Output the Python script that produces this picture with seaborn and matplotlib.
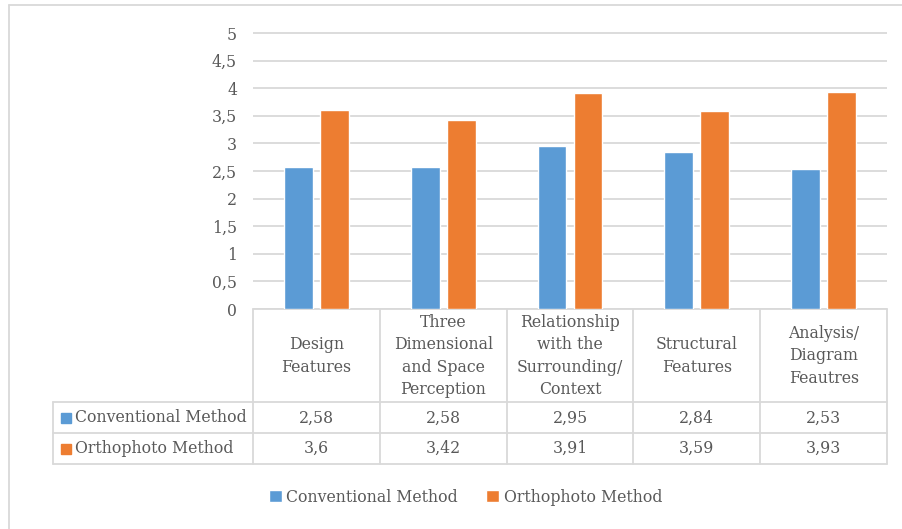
import matplotlib
matplotlib.use("Agg")
import matplotlib.pyplot as plt
import seaborn as sns
import pandas as pd
from matplotlib import transforms
from matplotlib.lines import Line2D
from matplotlib.patches import Rectangle

# ---- data ----
categories = [
    "Design\nFeatures",
    "Three\nDimensional\nand Space\nPerception",
    "Relationship\nwith the\nSurrounding/\nContext",
    "Structural\nFeatures",
    "Analysis/\nDiagram\nFeautres",
]
series_names = ["Conventional Method", "Orthophoto Method"]
conventional = [2.58, 2.58, 2.95, 2.84, 2.53]
orthophoto = [3.6, 3.42, 3.91, 3.59, 3.93]
y_ticks = [0, 0.5, 1, 1.5, 2, 2.5, 3, 3.5, 4, 4.5, 5]

series_colors = ["#5B9BD5", "#ED7D31"]
text_color = "#595959"
line_color = "#D9D9D9"
FS = 11.3

sns.set_theme(style="white")
plt.rcParams["font.family"] = ["DejaVu Serif", "DejaVu Sans"]

W, H = 902, 529
fig = plt.figure(figsize=(W / 100, H / 100), dpi=100)


def fx(px):
    return px / W


def fy(py):
    return 1 - py / H


ax = fig.add_axes([fx(253), fy(309), fx(887) - fx(253), (309 - 27.5) / H])

df = pd.DataFrame({
    "category": categories * 2,
    "series": [series_names[0]] * len(categories) + [series_names[1]] * len(categories),
    "value": conventional + orthophoto,
})

sns.barplot(
    data=df, x="category", y="value", hue="series",
    order=categories, hue_order=series_names,
    palette=series_colors, saturation=1, errorbar=None,
    width=0.567, gap=0.2, ax=ax, zorder=3,
)

ax.set_xlim(-0.5, len(categories) - 0.5)
ax.set_ylim(0, 5.1)
ax.set_yticks(y_ticks)
ax.set_yticklabels([f"{t:g}".replace(".", ",") for t in y_ticks],
                   color=text_color, fontsize=FS)
ax.tick_params(axis="y", length=0, pad=11.5)
ax.set_xticks([])
ax.set_xlabel("")
ax.set_ylabel("")
for s in ax.spines.values():
    s.set_visible(False)
ax.yaxis.grid(True, color=line_color, linewidth=1.3)
ax.set_axisbelow(True)

# ---- data table under the axis ----
bt = transforms.blended_transform_factory(ax.transData, fig.transFigure)
lw = 1.3
y_top, y_r1, y_r2, y_bot = fy(309), fy(402), fy(433), fy(463.5)
x_left = fx(53)

# horizontal rules
ax.add_line(Line2D([-0.5, len(categories) - 0.5], [y_top, y_top], color=line_color,
                   lw=lw, transform=bt, clip_on=False))
for y in (y_r1, y_r2, y_bot):
    fig.add_artist(Line2D([x_left, fx(887)], [y, y], color=line_color,
                          lw=lw, transform=fig.transFigure))
# vertical rules
for i in range(len(categories) + 1):
    ax.add_line(Line2D([i - 0.5, i - 0.5], [y_top, y_bot], color=line_color,
                       lw=lw, transform=bt, clip_on=False))
fig.add_artist(Line2D([x_left, x_left], [y_r1, y_bot], color=line_color,
                      lw=lw, transform=fig.transFigure))

row_centers = [fy(418), fy(448.5)]
for i, cat in enumerate(categories):
    ax.text(i, fy(356), cat, transform=bt, ha="center", va="center",
            fontsize=FS, color=text_color, linespacing=1.41, clip_on=False)
    for vals, yc in zip([conventional, orthophoto], row_centers):
        ax.text(i, yc, f"{vals[i]:g}".replace(".", ","), transform=bt,
                ha="center", va="center", fontsize=FS, color=text_color,
                clip_on=False)

for name, col, yc in zip(series_names, series_colors, row_centers):
    sq = 10 / H
    fig.add_artist(Rectangle((fx(61), yc - sq / 2), 10 / W, sq, color=col,
                             transform=fig.transFigure))
    fig.text(fx(75), yc, name, ha="left", va="center", fontsize=FS,
             color=text_color)

# ---- legend ----
sns.move_legend(
    ax, "center", bbox_to_anchor=(fx(465.5), fy(497)),
    bbox_transform=fig.transFigure, ncol=2, frameon=False, title=None,
    handlelength=0.8, handleheight=0.8, handletextpad=0.3,
    columnspacing=1.8, fontsize=FS, labelcolor=text_color,
)

# ---- chart area border ----
fig.add_artist(Line2D([fx(8.5), fx(8.5)], [fy(4.5), 0], color=line_color,
                      lw=1.3, transform=fig.transFigure))
fig.add_artist(Line2D([fx(8.5), 1], [fy(4.5), fy(4.5)], color=line_color,
                      lw=1.3, transform=fig.transFigure))

fig.savefig("out.png", dpi=100, facecolor="white")
